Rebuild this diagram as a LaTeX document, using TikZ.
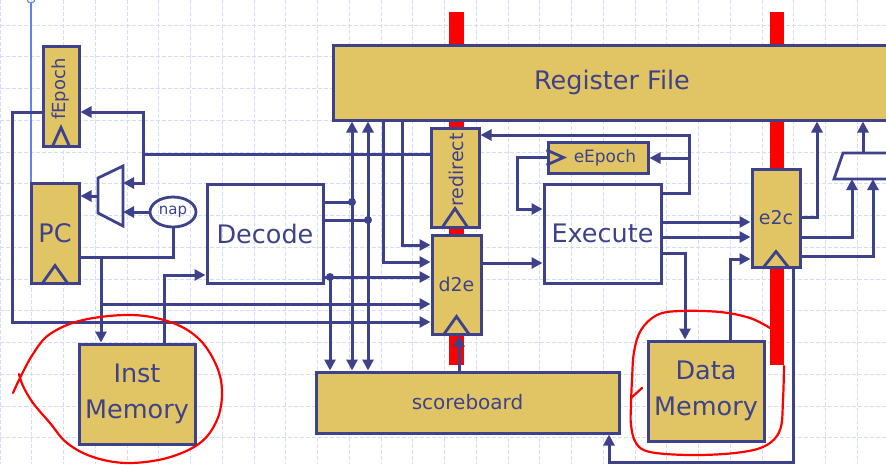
\documentclass[tikz,border=0pt]{standalone}
\usepackage{fontspec}
\setmainfont{DejaVu Sans}
\usetikzlibrary{arrows.meta,shapes.geometric}
\definecolor{dblue}{RGB}{62,66,138}
\definecolor{gold}{RGB}{225,197,100}
\definecolor{gridc}{RGB}{212,221,248}
\definecolor{selblue}{RGB}{100,130,235}
\begin{document}
\begin{tikzpicture}[x=1pt,y=-1pt,
 wire/.style={draw=dblue,line width=3pt},
 arr/.style={wire,-{Triangle[length=11pt,width=11pt]}},
 regbox/.style={draw=dblue,fill=gold,line width=3pt,inner sep=0pt,text=dblue},
 logicbox/.style={draw=dblue,line width=3pt,inner sep=0pt,text=dblue},
 clk/.style={draw=dblue,line width=2.8pt,line join=miter},
 jdot/.style={circle,fill=dblue,inner sep=0pt,minimum size=8pt},
 gridline/.style={draw=gridc,line width=0.9pt,dash pattern=on 4pt off 2pt},
 scribble/.style={draw=red,line width=2.2pt,line cap=round,line join=round},
 big/.style={font=\fontsize{25.5}{36}\selectfont},
 mid/.style={font=\fontsize{19}{22}\selectfont},
 lbl/.style={text=dblue,inner sep=0pt}]
\useasboundingbox (0,0) rectangle (886,464);
\fill[white] (0,0) rectangle (886,464);
% background grid
\foreach \k in {0,...,13} \draw[gridline] (0,{25+31.75*\k}) -- (886,{25+31.75*\k});
\foreach \k in {0,...,27} \draw[gridline] ({31.75*\k},0) -- ({31.75*\k},464);
% selection line
\draw[selblue,line width=1.5pt] (31,3) -- (31,183);
\draw[selblue,line width=1.1pt] (31,-1) circle (4pt);
% red bars
\fill[red] (449,12) rectangle (464,365);
\fill[red] (770,12) rectangle (784,365);
% boxes
\node[regbox,minimum width=558pt,minimum height=75pt,big] (rf) at (612,82.5) {Register File};
\node[regbox,minimum width=36pt,minimum height=100pt] (fe) at (61,96) {};
\node[regbox,minimum width=48pt,minimum height=100pt,big] (pc) at (55,233) {PC};
\node[regbox,minimum width=116pt,minimum height=100pt,big,align=center] (im) at (137,394) {Inst\\Memory};
\node[logicbox,minimum width=116pt,minimum height=99pt,big] (dec) at (265,233.5) {Decode};
\node[regbox,minimum width=48pt,minimum height=99pt] (rd) at (455,177.5) {};
\node[regbox,minimum width=49pt,minimum height=99pt,mid] (d2e) at (456.5,284.5) {d2e};
\node[regbox,minimum width=100pt,minimum height=31pt] (ee) at (598,157.5) {};
\node[logicbox,minimum width=117pt,minimum height=99pt,big] (exe) at (602.5,233.5) {Execute};
\node[regbox,minimum width=48pt,minimum height=98pt,mid] (e2c) at (776,218) {e2c};
\node[regbox,minimum width=116pt,minimum height=100pt,big,align=center] (dm) at (706,391) {Data\\Memory};
\node[regbox,minimum width=303pt,minimum height=61pt,font=\fontsize{20}{24}\selectfont] (sb) at (467.5,402.5) {scoreboard};
\node[draw=dblue,line width=2.8pt,ellipse,minimum width=46pt,minimum height=30pt,inner sep=0pt,text=dblue,font=\fontsize{15}{18}\selectfont] (nap) at (173,212) {nap};
% rotated / inner labels
\node[lbl,rotate=90,font=\fontsize{18}{20}\selectfont] (fet) at (61,89) {fEpoch};
\node[lbl,rotate=90,mid] (rdt) at (456,170) {redirect};
\node[lbl,font=\fontsize{17}{20}\selectfont] (eet) at (605,158) {eEpoch};
% clock triangles
\draw[clk] ([xshift=-9pt]fe.south) -- ([yshift=20pt]fe.south) -- ([xshift=9pt]fe.south);
\draw[clk] ([xshift=-13.5pt]pc.south) -- ([yshift=19pt]pc.south) -- ([xshift=13.5pt]pc.south);
\draw[clk] ([xshift=-13.5pt]rd.south) -- ([yshift=20pt]rd.south) -- ([xshift=13.5pt]rd.south);
\draw[clk] ([xshift=-13.5pt]d2e.south) -- ([yshift=19pt]d2e.south) -- ([xshift=13.5pt]d2e.south);
\draw[clk] ([xshift=-13.5pt]e2c.south) -- ([yshift=17pt]e2c.south) -- ([xshift=13.5pt]e2c.south);
\draw[clk] ([yshift=7.5pt]ee.west) -- ([xshift=17pt]ee.west) -- ([yshift=-7.5pt]ee.west);
% muxes
\coordinate (m1a) at (123,183);
\coordinate (m1b) at (123,212);
\coordinate (m1o) at (98,196);
\draw[wire,line width=2.8pt] (98,178) -- (123,166) -- (123,226) -- (98,213) -- cycle;
\coordinate (m2a) at (852,179);
\coordinate (m2b) at (873,179);
\coordinate (m2o) at (863,153);
\draw[wire,line width=2.8pt] (900,153) -- (843,153) -- (834,179) -- (900,179);
% junctions
\coordinate (jr) at (143,154);
\coordinate (jpc) at (101,257);
\coordinate (ja) at (352,202);
\coordinate (jb) at (368,220);
\coordinate (jc) at (330,277);
\coordinate (je) at (689,158);
% connectors
\draw[wire] (rd.west |- jr) -- (jr);
\draw[arr] (jr) |- (fe.east |- 0,112);
\draw[arr] (jr) |- (m1a);
\draw[arr] (fe.west |- 0,112) -- (12,112) |- (d2e.west |- 0,322);
\draw[arr] (m1o) -- (pc.east |- m1o);
\draw[arr] (nap.west) -- (m1b);
\draw[wire] (pc.east |- jpc) -| (nap.south);
\draw[arr] (jpc) -- (im.north -| jpc);
\draw[arr] (jpc |- 0,304) -- (d2e.west |- 0,304);
\draw[arr] (im.north -| 164,0) |- (dec.west |- 0,275);
\draw[wire] (dec.east |- ja) -- (ja);
\draw[wire] (dec.east |- jb) -- (jb);
\draw[arr] (ja) -- (rf.south -| ja);
\draw[arr] (ja) -- (sb.north -| ja);
\draw[arr] (jb) -- (rf.south -| jb);
\draw[arr] (jb) -- (sb.north -| jb);
\draw[arr] (dec.east |- jc) -- (d2e.west |- jc);
\draw[arr] (jc) -- (sb.north -| jc);
\draw[arr] (rf.south -| 383,0) |- (d2e.west |- 0,262);
\draw[arr] (rf.south -| 402,0) |- (d2e.west |- 0,245);
\draw[arr] (sb.north -| 459,0) -- (d2e.south -| 459,0);
\draw[arr] (d2e.east |- 0,263) -- (exe.west |- 0,263);
\draw[arr] (ee.west) -- (517,157.5) |- (exe.west |- 0,209);
\draw[arr] (exe.east |- 0,193) -| (je) |- (rd.east |- 0,135);
\draw[arr] (je) -- (ee.east |- je);
\draw[arr] (exe.east |- 0,222) -- (e2c.west |- 0,222);
\draw[arr] (exe.east |- 0,237) -- (e2c.west |- 0,237);
\draw[arr] (exe.east |- 0,253) -| (dm.north -| 685,0);
\draw[arr] (dm.north -| 730,0) |- (e2c.west |- 0,259);
\draw[arr] (e2c.east |- 0,217) -| (rf.south -| 817,0);
\draw[arr] (e2c.east |- 0,237) -| (m2a);
\draw[arr] (e2c.east |- 0,256) -| (m2b);
\draw[arr] (m2o) -- (rf.south -| m2o);
\draw[arr] (e2c.south -| 793,0) -- (793,462) -| (sb.south -| 609,0);
% junction dots
\node[jdot] (dja) at (ja) {};
\node[jdot] (djb) at (jb) {};
\node[jdot] (djc) at (jc) {};
% red hand-drawn circles
\draw[scribble] plot[smooth,tension=0.6] coordinates {(13,393) (20,378) (33,354) (50,334) (83,320) (133,315) (173,323) (200,340) (217,367) (222,393) (217,420) (200,443) (167,458) (127,463) (93,457) (67,443) (50,423) (33,403) (23,386) (19,374)};
\draw[scribble] plot[smooth,tension=0.6] coordinates {(770,328) (750,318) (720,312) (680,311) (657,315) (641,330) (634,352) (632,380) (631,405) (631,425) (636,443) (650,452) (690,455) (735,453) (765,446) (780,430) (783,400) (784,366)};
\draw[scribble] (631,398) -- (642,388);
\end{tikzpicture}
\end{document}
